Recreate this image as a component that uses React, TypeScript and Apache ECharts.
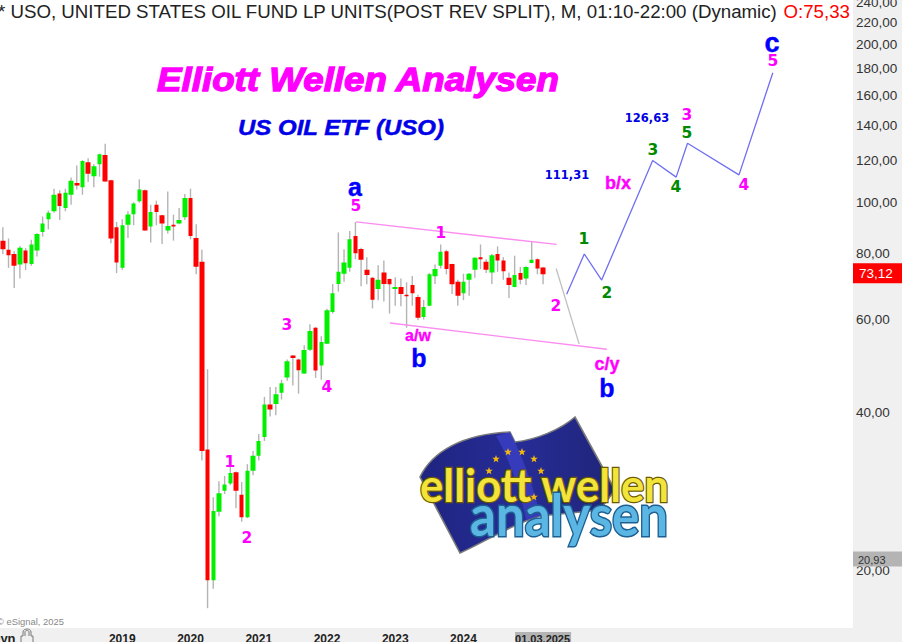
import React, { useEffect, useRef } from "react";
import * as echarts from "echarts";

const opens = [84.7,81.4,79.9,76.3,81.1,76.5,81.1,88.0,93.0,96.3,104.1,97.7,103.5,109.0,106.9,119.3,112.2,118.2,123.2,110.3,89.8,75.2,90.8,95.1,100.6,105.6,90.1,99.1,94.6,88.5,90.8,91.3,93.8,102.0,85.7,77.2,34.0,19.2,25.9,28.4,29.3,30.8,27.9,25.3,31.0,33.1,35.9,41.4,41.5,43.6,46.6,51.3,50.4,47.4,52.6,57.9,49.1,54.0,62.0,70.1,73.3,75.2,86.4,81.7,74.6,72.0,68.6,73.7,71.6,68.6,69.2,66.9,69.8,66.2,60.7,63.7,72.5,75.9,80.9,76.5,70.8,67.3,71.4,74.6,78.8,77.2,73.7,79.9,77.7,72.0,69.2,73.5,71.8,76.8,78.1,75.33];
const closes = [81.6,79.5,75.9,82.1,76.7,83.3,87.2,91.3,95.7,103.5,98.5,104.4,110.0,107.8,120.0,113.5,117.2,123.5,109.7,85.5,77.0,90.6,94.9,99.6,105.9,88.5,96.0,96.0,91.3,90.3,90.1,92.7,102.0,86.4,75.6,33.8,19.2,26.0,28.1,29.2,30.7,28.4,25.3,31.0,33.1,35.3,41.4,40.5,43.3,45.4,50.0,50.7,48.1,52.5,57.1,48.0,54.4,62.5,67.3,73.9,77.0,85.2,80.2,77.9,72.9,65.4,71.4,70.1,70.0,69.2,67.1,66.4,67.3,60.5,63.4,73.1,74.8,80.7,74.8,70.0,66.6,70.8,73.3,78.6,78.1,74.6,79.5,77.7,74.1,69.8,72.9,71.4,75.5,77.9,75.0,73.12];
const lows = [79.9,75.2,68.9,71.8,74.5,75.9,79.0,86.2,89.0,95.7,92.7,96.3,99.1,105.9,103.5,109.4,106.9,112.0,109.5,83.7,73.5,74.6,85.7,90.6,100.0,88.4,84.0,90.6,83.5,87.4,84.7,91.0,92.7,85.2,73.1,32.4,17.0,18.5,25.4,28.0,29.1,26.3,24.8,25.2,30.4,32.4,35.3,39.3,39.5,42.3,45.9,45.0,43.4,47.3,52.3,46.5,46.1,53.9,61.6,67.8,70.8,73.9,78.1,69.4,70.0,63.0,65.3,64.9,61.6,63.7,63.6,57.9,63.7,59.8,60.0,63.6,70.1,75.0,73.1,67.1,63.7,65.3,66.6,72.0,74.8,73.5,70.1,73.9,71.4,65.9,69.1,70.0,69.8,76.7,73.1,70.0];
const highs = [89.8,85.5,80.9,82.7,82.0,85.0,87.5,94.1,96.6,106.3,105.6,106.3,111.6,117.6,120.4,121.4,118.2,123.9,129.4,110.5,91.9,93.0,96.3,100.2,110.7,105.9,99.1,100.9,94.8,105.0,94.9,97.7,103.8,106.3,91.0,81.4,48.3,27.6,29.6,30.3,32.0,30.9,29.5,31.9,33.8,36.4,42.8,44.7,44.7,46.1,50.4,51.4,50.6,53.6,58.8,58.1,55.8,62.9,70.1,87.8,81.6,88.3,91.9,82.1,78.8,72.2,76.1,77.7,71.8,72.2,71.8,70.6,72.6,66.9,65.4,73.5,76.3,83.3,81.4,76.6,71.4,73.3,73.5,78.8,83.3,78.1,79.9,82.6,78.8,73.7,79.3,75.5,75.7,84.5,78.4,75.5];

const priceTicks = [20, 40, 60, 80, 100, 120, 140, 160, 180, 200, 220, 240];
const lastClose = 73.12;
const lowMark = 20.93;

const waveIdx = [99.15, 102.25, 105.3, 114.27, 118.4, 120.4, 129.45, 135.4];
const wavePrice = [67.0, 79.9, 71.3, 120.2, 111.8, 129.6, 112.9, 176.4];
const drop2Idx = [97.3, 101.35];
const drop2Price = [75.0, 53.9];
const upperIdx = [62.1, 97.4];
const upperPrice = [91.9, 83.3];
const lowerIdx = [68.08, 106.2];
const lowerPrice = [59.1, 52.7];

const MONTH_COUNT = 150;
const categories: string[] = [];
for (let i = 0; i < MONTH_COUNT; i++) {
  const m = 3 + i;
  const y = 2017 + Math.floor(m / 12);
  categories.push(`${y}-${String((m % 12) + 1).padStart(2, "0")}`);
}

const MAGENTA = "#ff00ff";
const BLUE = "#0000ff";
const GREEN = "#008a00";
const DIGIT = 15.5;

const notes: [string, number, number, string, number][] = [
  ["a", 355, 187, BLUE, 25],
  ["5", 356, 206, MAGENTA, DIGIT],
  ["1", 441, 233, MAGENTA, DIGIT],
  ["a/w", 418, 335, MAGENTA, 16],
  ["b", 419, 358, BLUE, 25],
  ["2", 556, 306, MAGENTA, DIGIT],
  ["1", 584, 239, GREEN, DIGIT],
  ["2", 607, 293, GREEN, DIGIT],
  ["c/y", 607, 364, MAGENTA, 18],
  ["b", 607, 388, BLUE, 25],
  ["b/x", 618, 183, MAGENTA, 18],
  ["3", 653, 150, GREEN, DIGIT],
  ["4", 676, 187, GREEN, DIGIT],
  ["5", 687, 133, GREEN, DIGIT],
  ["3", 687, 115, MAGENTA, DIGIT],
  ["4", 744, 185, MAGENTA, DIGIT],
  ["5", 773, 61, MAGENTA, DIGIT],
  ["c", 772, 43, BLUE, 27],
  ["1", 230, 462, MAGENTA, DIGIT],
  ["2", 247, 538, MAGENTA, DIGIT],
  ["3", 287, 325, MAGENTA, DIGIT],
  ["4", 327, 387, MAGENTA, DIGIT],
];

const FLAG =
  "M420 477 C432 452 462 434 510 432 L515 442 C535 440 560 430 575 417 L615 490 L600 510 L540 516 C510 525 485 542 460 553 Z";
const FOLD = "M510 432 C522 455 535 490 540 516 L526 520 C520 490 510 460 496 436 Z";
const LOCK =
  "M21 642 L21 636 L23 636 L23 632 C23 628 31 628 31 632 L31 636 L33 636 L33 642 M25 636 L25 632 C25 630 29 630 29 632 L29 636";
echarts.graphic.registerShape("flagShape", echarts.graphic.extendPath(FLAG as any, {}) as any);
echarts.graphic.registerShape("foldShape", echarts.graphic.extendPath(FOLD as any, {}) as any);
echarts.graphic.registerShape("lockShape", echarts.graphic.extendPath(LOCK as any, {}) as any);

const starCenters = [[496, 459], [508, 452], [522, 452], [534, 459], [541, 471], [489, 471], [534, 497]];
function starPoints(cx: number, cy: number, r: number) {
  const pts: number[][] = [];
  for (let i = 0; i < 10; i++) {
    const rr = i % 2 ? r * 0.42 : r;
    const a = -Math.PI / 2 + (i * Math.PI) / 5;
    pts.push([cx + rr * Math.cos(a), cy + rr * Math.sin(a)]);
  }
  return pts;
}

function pair(xs: number[], ys: number[]) {
  return xs.map((x, i) => [x, ys[i]]);
}

function lineSeries(xs: number[], ys: number[], color: string) {
  return {
    type: "line",
    xAxisIndex: 1,
    yAxisIndex: 0,
    data: pair(xs, ys),
    symbol: "none",
    silent: true,
    z: 6,
    lineStyle: { color, width: 1.3 },
  };
}

function buildOption(): any {
  const F = "'Liberation Sans', Arial, sans-serif";
  const text = (t: string, x: number, y: number, fill: string, size: number, extra: any = {}, scaleX = 1) => ({
    type: "text",
    x,
    y,
    scaleX,
    z: 20,
    silent: true,
    style: {
      text: t,
      fill,
      fontFamily: F,
      fontWeight: "bold",
      fontSize: size,
      align: "center",
      verticalAlign: "middle",
      ...extra,
    },
  });
  return {
    animation: false,
    backgroundColor: "#ffffff",
    grid: { left: 0, right: 49, top: 0, bottom: 14, containLabel: false, outerBoundsMode: "none" },
    xAxis: [
      {
        type: "category",
        data: categories,
        boundaryGap: true,
        axisLine: { show: false },
        axisTick: { show: false },
        splitLine: { show: false },
        axisLabel: {
          show: true,
          margin: 4,
          interval: (_: number, v: string) =>
            (v.endsWith("-01") && v >= "2019" && v < "2025") || v === "2025-03",
          formatter: (v: string) => (v === "2025-03" ? "{d|01.03.2025}" : v.slice(0, 4)),
          color: "#222222",
          fontFamily: F,
          fontWeight: "bold",
          fontSize: 12,
          lineHeight: 13,
          rich: {
            d: {
              color: "#222222",
              fontFamily: F,
              fontSize: 11,
              backgroundColor: "#b4b4b4",
              padding: [1, 1, 1, 0],
            },
          },
        },
      },
      { type: "value", show: false, min: -0.5, max: MONTH_COUNT - 0.5 },
    ],
    yAxis: [
      {
        type: "log",
        logBase: 10,
        min: 15.59,
        max: 242.4,
        show: false,
        splitLine: { show: false },
      },
    ],
    series: [
      {
        type: "custom",
        name: "wicks",
        xAxisIndex: 0,
        yAxisIndex: 0,
        z: 2,
        silent: true,
        encode: { x: 0, y: [1, 2] },
        data: lows.map((l, i) => [i, l, highs[i]]),
        renderItem: (_: any, api: any) => {
          const a = api.coord([api.value(0), api.value(1)]);
          const b = api.coord([api.value(0), api.value(2)]);
          return {
            type: "line",
            shape: { x1: a[0], y1: a[1], x2: b[0], y2: b[1] },
            style: { stroke: "#b4b4b4", lineWidth: 1.4 },
          };
        },
      },
      {
        type: "candlestick",
        name: "USO",
        xAxisIndex: 0,
        yAxisIndex: 0,
        z: 3,
        silent: true,
        barWidth: 5,
        itemStyle: {
          color: "#00f000",
          color0: "#ff0000",
          borderColor: "#00f000",
          borderColor0: "#ff0000",
          borderWidth: 0,
        },
        data: opens.map((o, i) => [o, closes[i], lows[i], highs[i]]),
      },
      lineSeries(waveIdx, wavePrice, "#6f6ff2"),
      lineSeries(drop2Idx, drop2Price, "#c0c0c0"),
      lineSeries(upperIdx, upperPrice, "#fb8cf0"),
      lineSeries(lowerIdx, lowerPrice, "#fb8cf0"),
      {
        type: "custom",
        name: "priceTicks",
        xAxisIndex: 0,
        yAxisIndex: 0,
        z: 8,
        silent: true,
        data: priceTicks.map((p) => [0, p]),
        renderItem: (_: any, api: any) => {
          const v = api.value(1);
          const c = api.coord([0, v]);
          return {
            type: "text",
            x: 856,
            y: c[1],
            style: {
              text: v.toFixed(2).replace(".", ","),
              fill: "#333333",
              fontFamily: F,
              fontSize: 13.5,
              align: "left",
              verticalAlign: "middle",
            },
          };
        },
      },
      {
        type: "custom",
        name: "lastClose",
        xAxisIndex: 0,
        yAxisIndex: 0,
        z: 9,
        silent: true,
        data: [[0, lastClose]],
        renderItem: (_: any, api: any) => {
          const v = api.value(1);
          const c = api.coord([0, v]);
          return {
            type: "group",
            children: [
              { type: "rect", shape: { x: 853, y: c[1] - 11, width: 49, height: 20 }, style: { fill: "#ff0000" } },
              {
                type: "text",
                x: 859,
                y: c[1] - 1,
                style: {
                  text: v.toFixed(2).replace(".", ","),
                  fill: "#ffffff",
                  fontFamily: F,
                  fontSize: 13.5,
                  align: "left",
                  verticalAlign: "middle",
                },
              },
            ],
          };
        },
      },
      {
        type: "custom",
        name: "lowMark",
        xAxisIndex: 0,
        yAxisIndex: 0,
        z: 9,
        silent: true,
        data: [[0, lowMark]],
        renderItem: (_: any, api: any) => {
          const v = api.value(1);
          const c = api.coord([0, v]);
          return {
            type: "group",
            children: [
              { type: "rect", shape: { x: 853, y: c[1] - 9, width: 49, height: 15 }, style: { fill: "#b4b4b4" } },
              {
                type: "text",
                x: 858,
                y: c[1] - 1,
                style: {
                  text: v.toFixed(2).replace(".", ","),
                  fill: "#333333",
                  fontFamily: F,
                  fontSize: 11,
                  align: "left",
                  verticalAlign: "middle",
                },
              },
            ],
          };
        },
      },
    ],
    graphic: {
      elements: [
        { type: "rect", z: -1, silent: true, shape: { x: 853, y: 0, width: 49, height: 642 }, style: { fill: "#f0f0f0" } },
        { type: "rect", z: -1, silent: true, shape: { x: 0, y: 628, width: 902, height: 14 }, style: { fill: "#f0f0f0" } },
        text("* USO, UNITED STATES OIL FUND LP UNITS(POST REV SPLIT), M, 01:10-22:00 (Dynamic)", -2, 11, "#222222", 18.7, {
          fontWeight: "normal",
          align: "left",
        }),
        text("O:75,33", 850, 11, "#ff0000", 18.7, { fontWeight: "normal", align: "right" }),
        text("Elliott Wellen Analysen", 358, 79, MAGENTA, 34, { fontStyle: "italic", stroke: MAGENTA, lineWidth: 1.3 }, 1.08),
        text("US OIL ETF (USO)", 341, 127, "#0000e8", 22, { fontStyle: "italic", stroke: "#0000e8", lineWidth: 0.5 }, 1.09),
        text("111,31", 567, 175, "#0000e0", 11.5, { fontFamily: "'DejaVu Sans'" }),
        text("126,63", 647, 118, "#0000e0", 11.5, { fontFamily: "'DejaVu Sans'" }),
        ...notes.map(([t, x, y, c, s]) =>
          s === DIGIT ? text(t, x, y, c, s, { fontFamily: "'DejaVu Sans'" }) : text(t, x, y, c, s, { stroke: c, lineWidth: 0.4 }),
        ),
        text("© eSignal, 2025", -3, 621, "#888888", 9.4, { fontWeight: "normal", align: "left" }),
        text("Dyn", -9, 638, "#222222", 13, { align: "left" }),
        { type: "lockShape", z: 20, silent: true, style: { fill: "none", stroke: "#777777", lineWidth: 1 } },
        {
          type: "flagShape",
          z: 10,
          silent: true,
          style: {
            fill: new (echarts.graphic as any).LinearGradient(0, 0, 1, 0, [
              { offset: 0, color: "#1f2480" },
              { offset: 0.5, color: "#262c96" },
              { offset: 1, color: "#1f2578" },
            ]),
            stroke: "#7a7a7a",
            lineWidth: 1.6,
          },
        },
        { type: "foldShape", z: 11, silent: true, style: { fill: "#3a40c4", opacity: 0.8 } },
        ...starCenters.map((c) => ({
          type: "polygon",
          z: 12,
          silent: true,
          shape: { points: starPoints(c[0], c[1], 4) },
          style: { fill: "#f2b80c" },
        })),
        {
          type: "text",
          x: 420,
          y: 485,
          scaleX: 0.95,
          z: 13,
          silent: true,
          style: {
            text: "elliott wellen",
            fontFamily: "Lato",
            fontWeight: "bold",
            fontSize: 46,
            fill: "#f3e43c",
            stroke: "#6b5a00",
            lineWidth: 2.5,
            align: "left",
            verticalAlign: "middle",
            shadowColor: "rgba(0,0,0,0.45)",
            shadowBlur: 3,
            shadowOffsetY: 2,
          },
        },
        {
          type: "text",
          x: 470,
          y: 514,
          scaleX: 0.88,
          z: 14,
          silent: true,
          style: {
            text: "analysen",
            fontFamily: "Lato",
            fontWeight: "bold",
            fontSize: 58,
            fill: "#5bb6e4",
            stroke: "#1c5f90",
            lineWidth: 3,
            align: "left",
            verticalAlign: "middle",
            shadowColor: "rgba(0,0,0,0.45)",
            shadowBlur: 3,
            shadowOffsetY: 2,
          },
        },
      ],
    },
  };
}

export default function App() {
  const ref = useRef<HTMLDivElement>(null);
  useEffect(() => {
    document.body.style.margin = "0";
    const chart = echarts.init(ref.current!, undefined, { renderer: "svg" });
    chart.setOption(buildOption());
    return () => chart.dispose();
  }, []);
  return <div ref={ref} style={{ width: 902, height: 642 }} />;
}
